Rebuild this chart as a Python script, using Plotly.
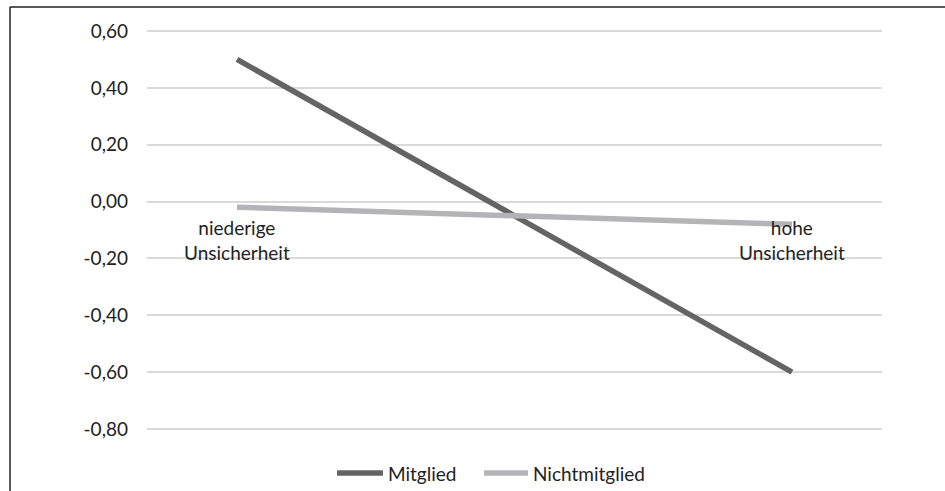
import plotly.graph_objects as go

categories = ["niederige<br>Unsicherheit", "hohe<br>Unsicherheit"]
series_names = ["Mitglied", "Nichtmitglied"]
mitglied = [0.50, -0.60]
nichtmitglied = [-0.02, -0.08]
y_ticks = [0.6, 0.4, 0.2, 0.0, -0.2, -0.4, -0.6, -0.8]
y_tick_labels = ["0,60", "0,40", "0,20", "0,00", "-0,20", "-0,40", "-0,60", "-0,80"]

colors = ["#646464", "#b4b4b6"]

W, H = 945, 491
ml, mr, mt, mb = 147, 63, 25, 56
pw, ph = W - ml - mr, H - mt - mb

FONT = "Lato"
TXT = "#222222"
x_idx = [0, 1]

fig = go.Figure()
for name, vals, col in zip(series_names, [mitglied, nichtmitglied], colors):
    fig.add_trace(go.Scatter(x=x_idx, y=vals, mode="lines", name=name,
                             line=dict(color=col, width=5.5), showlegend=False,
                             hoverinfo="skip"))

for i, c in enumerate(categories):
    fig.add_annotation(x=x_idx[i], y=0, xref="x", yref="y", text=c, showarrow=False,
                       yanchor="top", xanchor="center", yshift=-12,
                       font=dict(family=FONT, size=19, color=TXT))

def px_to_paper_x(px):
    return (px - ml) / pw

def px_to_paper_y(py):
    return (H - mb - py) / ph

# frame (top and left edges)
fig.add_shape(type="line", xref="paper", yref="paper",
              x0=px_to_paper_x(10), x1=px_to_paper_x(W + 5),
              y0=px_to_paper_y(7), y1=px_to_paper_y(7),
              line=dict(color=TXT, width=1.5))
fig.add_shape(type="line", xref="paper", yref="paper",
              x0=px_to_paper_x(10), x1=px_to_paper_x(10),
              y0=px_to_paper_y(7), y1=px_to_paper_y(H + 5),
              line=dict(color=TXT, width=1.5))

# custom legend
legend_items = [(335, 385), (482, 530)]
ly = px_to_paper_y(473)
for (x0, x1), name, col in zip(legend_items, series_names, colors):
    fig.add_shape(type="line", xref="paper", yref="paper",
                  x0=px_to_paper_x(x0 + 2), x1=px_to_paper_x(x1 - 2), y0=ly, y1=ly,
                  line=dict(color=col, width=5.5))
    fig.add_annotation(x=px_to_paper_x(x1 + 1), y=ly, xref="paper", yref="paper",
                       text=name, showarrow=False, xanchor="left", yanchor="middle",
                       font=dict(family=FONT, size=19, color=TXT))

fig.update_layout(
    width=W, height=H,
    margin=dict(l=ml, r=mr, t=mt, b=mb),
    paper_bgcolor="white", plot_bgcolor="white",
    font=dict(family=FONT, size=19, color=TXT),
    showlegend=False,
    hovermode=False,
    xaxis=dict(range=[-90 / 555, 1 + 90 / 555], showgrid=False, zeroline=False,
               showticklabels=False, showline=False, fixedrange=True),
    yaxis=dict(range=[-0.8 - 6 / 284.5, 0.6 + 6 / 284.5], tickvals=y_ticks,
               ticktext=y_tick_labels, showgrid=True, gridcolor="#d9d9d9", gridwidth=2,
               zeroline=False, showline=False, ticklabelstandoff=18, fixedrange=True,
               tickfont=dict(family=FONT, size=19, color=TXT)),
)

fig.write_html("out.html", config={"displayModeBar": False, "staticPlot": True},
               post_script="document.body.style.margin='0';document.body.style.overflow='hidden';")
